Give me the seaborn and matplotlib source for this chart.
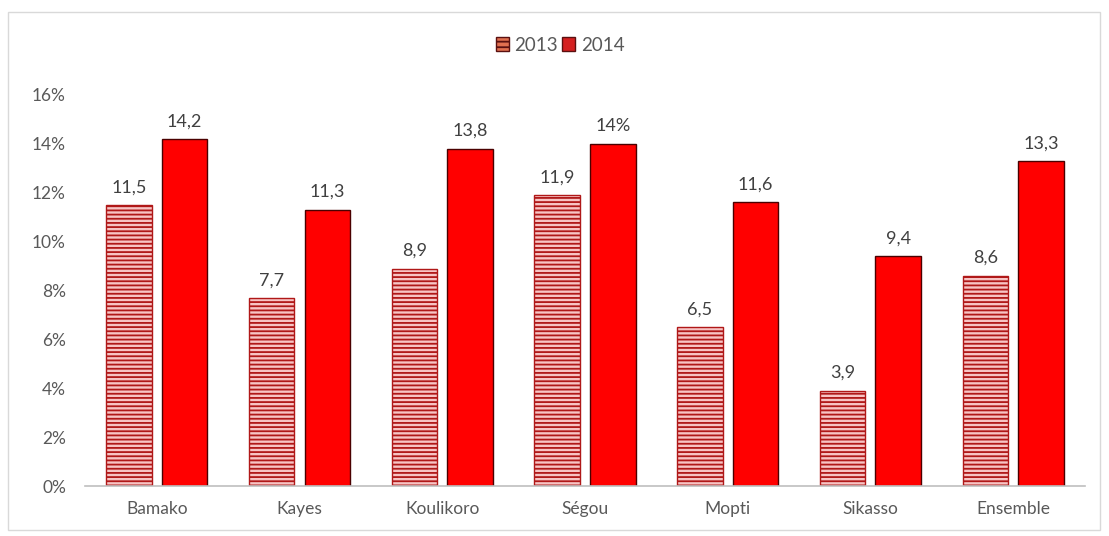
import matplotlib
matplotlib.use("Agg")
import matplotlib.pyplot as plt
import seaborn as sns
import pandas as pd
from matplotlib.patches import Rectangle, Patch

regions = ["Bamako", "Kayes", "Koulikoro", "Ségou", "Mopti", "Sikasso", "Ensemble"]
years = ["2013", "2014"]
v2013 = [11.5, 7.7, 8.9, 11.9, 6.5, 3.9, 8.6]
v2014 = [14.2, 11.3, 13.8, 14.0, 11.6, 9.4, 13.3]
lab2013 = ["11,5", "7,7", "8,9", "11,9", "6,5", "3,9", "8,6"]
lab2014 = ["14,2", "11,3", "13,8", "14%", "11,6", "9,4", "13,3"]
yticks = [0, 2, 4, 6, 8, 10, 12, 14, 16]
ytick_labels = ["0%", "2%", "4%", "6%", "8%", "10%", "12%", "14%", "16%"]

df = pd.DataFrame({
    "region": regions * 2,
    "year": [years[0]] * len(regions) + [years[1]] * len(regions),
    "value": v2013 + v2014,
})

sns.set_style("white")
plt.rcParams["font.family"] = ["Lato", "DejaVu Sans"]
plt.rcParams["hatch.linewidth"] = 1.3

fig = plt.figure(figsize=(11.09, 5.36), dpi=100)
ax = fig.add_axes([0.077, 0.093, 0.901, 0.730])

c2013 = "#f7c4c4"
c2014 = "#ff0000"
sns.barplot(data=df, x="region", y="value", hue="year", order=regions,
            hue_order=years, palette=[c2013, c2014], width=0.78, gap=0.18,
            saturation=1, legend=False, ax=ax)

cont2013, cont2014 = ax.containers[0], ax.containers[1]
for b in cont2013:
    b.set_hatch("----")
    b.set_edgecolor("#b01818")
    b.set_linewidth(1.0)
for b in cont2014:
    b.set_edgecolor("#4a0000")
    b.set_linewidth(1.0)

ax.bar_label(cont2013, labels=lab2013, padding=7, fontsize=13, color="#404040")
ax.bar_label(cont2014, labels=lab2014, padding=7, fontsize=13, color="#404040")

ax.set_ylim(0, 16)
ax.set_xlim(-0.5, len(regions) - 0.5)
ax.set_yticks(yticks)
ax.set_yticklabels(ytick_labels)
ax.set_xlabel("")
ax.set_ylabel("")
ax.tick_params(axis="both", labelsize=12.5, colors="#595959", length=0)
ax.tick_params(axis="x", pad=11)
ax.tick_params(axis="y", pad=14)
for s in ["left", "right", "top"]:
    ax.spines[s].set_visible(False)
ax.spines["bottom"].set_color("#bfbfbf")
ax.spines["bottom"].set_linewidth(1.2)

handles = [Patch(facecolor="#e07050", edgecolor="#5a1010", hatch="---"),
           Patch(facecolor="#d42020", edgecolor="#5a1010")]
fig.legend(handles, years, loc="center", bbox_to_anchor=(0.505, 0.916),
           ncol=2, frameon=False, fontsize=13.5, handlelength=0.7,
           handleheight=0.7, handletextpad=0.3, columnspacing=0.2,
           labelcolor="#595959")

fig.patches.append(Rectangle((0.007, 0.012), 0.985, 0.965, transform=fig.transFigure,
                             fill=False, edgecolor="#d9d9d9", linewidth=1.0))

fig.savefig("out.png", dpi=100)
